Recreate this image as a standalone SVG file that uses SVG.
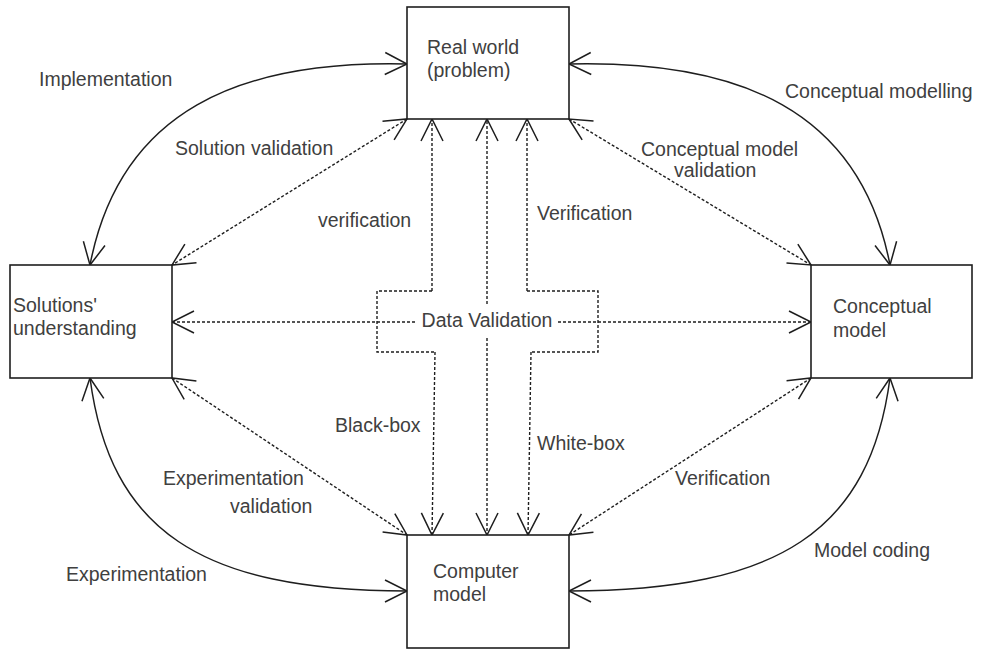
<svg xmlns="http://www.w3.org/2000/svg" width="982" height="651" viewBox="0 0 982 651">
<style>
  .box { fill: #ffffff; stroke: #1e1e1e; stroke-width: 1.6; }
  .t { font-family: "Liberation Sans", Arial, sans-serif; font-size: 19.5px; fill: #404040; }
  .solid { fill: none; stroke: #1e1e1e; stroke-width: 1.5; }
  .dash { fill: none; stroke: #1e1e1e; stroke-width: 1.4; stroke-dasharray: 3 2; }
  .arr { marker-end: url(#ah); }
  .bi { marker-start: url(#ah); marker-end: url(#ah); }
</style>
<defs>
  <marker id="ah" viewBox="-25 -13 27 26" refX="0" refY="0" markerWidth="27" markerHeight="26" markerUnits="userSpaceOnUse" orient="auto-start-reverse" overflow="visible">
    <path d="M-22,-11 L0,0 L-22,11" fill="none" stroke="#1e1e1e" stroke-width="1.5" stroke-dasharray="none"/>
  </marker>
</defs>
<rect width="982" height="651" fill="#ffffff"/>

<g id="connectors">
  <!-- solid curved connectors -->
  <path class="solid bi" d="M407,64 C240,60 120,110 90,265"/>
  <path class="solid bi" d="M569,64 C740,60 860,110 890,265"/>
  <path class="solid bi" d="M90,378 C110,530 200,591 407,591"/>
  <path class="solid bi" d="M890,378 C870,530 780,591 569,591"/>
  <!-- dashed diagonals -->
  <path class="dash bi" d="M407,119 L172,265"/>
  <path class="dash bi" d="M569,119 L811,265"/>
  <path class="dash bi" d="M172,378 L407,535"/>
  <path class="dash bi" d="M811,378 L569,535"/>
  <!-- vertical dashed arrows -->
  <path class="dash arr" d="M432,291 V119"/>
  <path class="dash arr" d="M435,352 L432,535"/>
  <path class="dash arr" d="M527,291 V119"/>
  <path class="dash arr" d="M531,352 L528,535"/>
  <path class="dash arr" d="M487,304 V119"/>
  <path class="dash arr" d="M487,338 V535"/>
  <!-- horizontal dashed arrows -->
  <path class="dash arr" d="M415,322 H172"/>
  <path class="dash arr" d="M558,322 H811"/>
  <!-- labels -->
  <text class="t" x="39" y="86">Implementation</text>
  <text class="t" x="175" y="155">Solution validation</text>
  <text class="t" x="318" y="227">verification</text>
  <text class="t" x="785" y="98">Conceptual modelling</text>
  <text class="t" x="641" y="156">Conceptual model</text>
  <text class="t" x="674" y="177">validation</text>
  <text class="t" x="537" y="220">Verification</text>
  <text class="t" x="335" y="432">Black-box</text>
  <text class="t" x="537" y="450">White-box</text>
  <text class="t" x="163" y="485">Experimentation</text>
  <text class="t" x="230" y="513">validation</text>
  <text class="t" x="675" y="485">Verification</text>
  <text class="t" x="66" y="581">Experimentation</text>
  <text class="t" x="814" y="557">Model coding</text>
</g>

<g id="data-validation">
  <path class="dash" d="M432,291 H377 V352 H435 M527,291 H598 V352 H531"/>
  <text class="t" x="487" y="327" text-anchor="middle">Data Validation</text>
</g>

<g id="real-world">
  <rect class="box" x="407" y="7" width="162" height="112"/>
  <text class="t" x="427" y="54">Real world</text>
  <text class="t" x="427" y="77">(problem)</text>
</g>

<g id="solutions-understanding">
  <rect class="box" x="10" y="265" width="162" height="113"/>
  <text class="t" x="13" y="312">Solutions'</text>
  <text class="t" x="13" y="335">understanding</text>
</g>

<g id="conceptual-model">
  <rect class="box" x="811" y="265" width="161" height="113"/>
  <text class="t" x="833" y="313">Conceptual</text>
  <text class="t" x="833" y="337">model</text>
</g>

<g id="computer-model">
  <rect class="box" x="407" y="535" width="162" height="113"/>
  <text class="t" x="433" y="578">Computer</text>
  <text class="t" x="433" y="601">model</text>
</g>
</svg>
